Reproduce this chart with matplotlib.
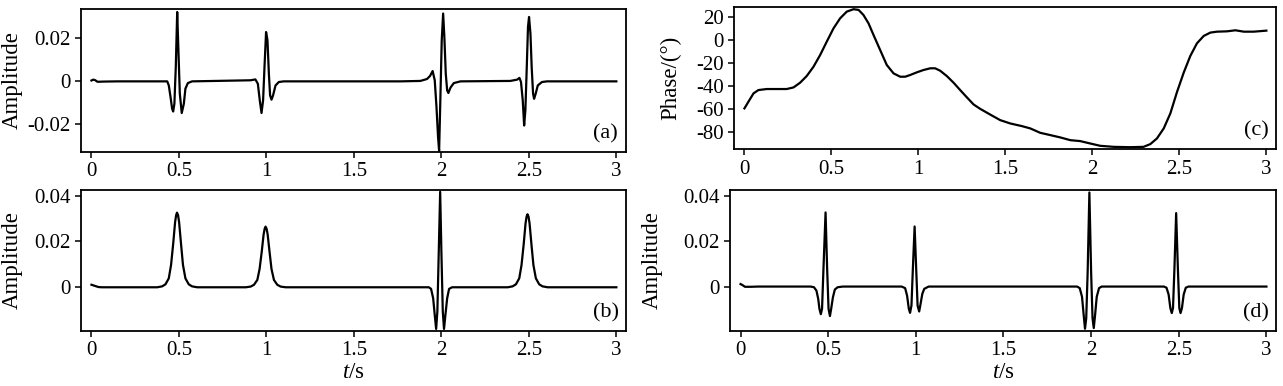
import matplotlib
matplotlib.use('Agg')
import matplotlib.pyplot as plt

plt.rcParams['font.family'] = ['Liberation Serif', 'DejaVu Serif']
plt.rcParams['axes.unicode_minus'] = False
plt.rcParams['mathtext.fontset'] = 'custom'
plt.rcParams['mathtext.rm'] = 'Liberation Serif'
plt.rcParams['mathtext.it'] = 'Liberation Serif:italic'

# (a) phase-rotated wavelets
t_a = [0, 0.01, 0.02, 0.035, 0.07, 0.15,
       0.433, 0.442, 0.452, 0.461, 0.467, 0.474, 0.482, 0.490, 0.497, 0.505, 0.516, 0.528, 0.537, 0.551, 0.575,
       0.909, 0.937, 0.951, 0.962, 0.972, 0.981, 0.989, 0.998, 1.006, 1.014, 1.021, 1.029, 1.038, 1.052, 1.071, 1.099,
       1.766, 1.880, 1.918, 1.935, 1.950, 1.962, 1.972, 1.981, 1.987, 1.994, 2.002, 2.010, 2.017, 2.025, 2.033, 2.040,
       2.052, 2.071, 2.109,
       2.394, 2.433, 2.446, 2.455, 2.465, 2.473, 2.480, 2.488, 2.495, 2.501, 2.509, 2.516, 2.524, 2.530, 2.539, 2.551,
       2.575, 2.604, 3.0]
amp_a = [0.0004, 0.0008, 0.0006, -0.0002, -0.0001, 0,
         0, -0.0019, -0.0073, -0.0127, -0.0140, -0.0104, 0.0067, 0.0322, 0.0144, -0.0057, -0.0147, -0.0104, -0.0034, -0.0008, 0,
         0.0005, 0.0009, -0.0011, -0.0088, -0.0147, -0.0088, 0.0067, 0.0229, 0.0191, 0.0036, -0.0065, -0.0085, -0.0065, -0.0019, -0.0003, 0,
         0, 0.0002, 0.0011, 0.0025, 0.0048, 0.0005, -0.0119, -0.0259, -0.0323, -0.0088, 0.0191, 0.0315, 0.0206, 0.0036, -0.0042, -0.0054,
         -0.0029, -0.0008, 0,
         0.0002, 0.0008, 0.0016, -0.0003, -0.0088, -0.0205, -0.0135, 0.0067, 0.0253, 0.0299, 0.0222, 0.0067, -0.0057, -0.0081, -0.0057, -0.0019,
         -0.0003, 0, 0]

# (b) envelope-like signal
t_b = [0, 0.02, 0.04, 0.06,
       0.376, 0.404, 0.423, 0.442, 0.455, 0.467, 0.478, 0.484, 0.489, 0.495, 0.501, 0.512, 0.523, 0.537, 0.556, 0.575, 0.604,
       0.882, 0.910, 0.929, 0.948, 0.961, 0.973, 0.984, 0.990, 0.995, 1.001, 1.007, 1.018, 1.029, 1.043, 1.062, 1.081, 1.110,
       1.928, 1.941, 1.953, 1.962, 1.970, 1.977, 1.985, 1.993, 2.000, 2.008, 2.015, 2.023, 2.033, 2.044, 2.061,
       2.379, 2.407, 2.426, 2.445, 2.458, 2.470, 2.481, 2.487, 2.492, 2.498, 2.504, 2.515, 2.526, 2.540, 2.559, 2.578, 2.607,
       3.0]
amp_b = [0.0011, 0.0006, 0.0001, 0,
         0, 0.0004, 0.0013, 0.0039, 0.0098, 0.0189, 0.0284, 0.0315, 0.0326, 0.0315, 0.0284, 0.0189, 0.0098, 0.0039, 0.0013, 0.0004, 0,
         0, 0.0003, 0.0011, 0.0032, 0.0080, 0.0154, 0.0231, 0.0256, 0.0265, 0.0256, 0.0231, 0.0154, 0.0080, 0.0032, 0.0011, 0.0003, 0,
         0, -0.0007, -0.0048, -0.0121, -0.0182, -0.0106, 0.0156, 0.0417, 0.0156, -0.0106, -0.0182, -0.0121, -0.0048, -0.0007, 0,
         0, 0.0004, 0.0013, 0.0039, 0.0097, 0.0185, 0.0279, 0.0309, 0.0319, 0.0309, 0.0279, 0.0185, 0.0097, 0.0039, 0.0013, 0.0004, 0,
         0]

# (c) phase curve
t_c = [0, 0.023, 0.052, 0.080, 0.128, 0.186, 0.243, 0.282, 0.320, 0.358, 0.397, 0.435, 0.473, 0.512, 0.550,
       0.588, 0.627, 0.656, 0.684, 0.713, 0.742, 0.780, 0.818, 0.857, 0.895, 0.924, 0.953, 0.991, 1.029, 1.068,
       1.096, 1.125, 1.163, 1.202, 1.240, 1.279, 1.317, 1.355, 1.413, 1.470, 1.528, 1.595, 1.643, 1.700, 1.758,
       1.815, 1.873, 1.930, 1.988, 2.045, 2.122, 2.218, 2.294, 2.333, 2.371, 2.410, 2.448, 2.486, 2.525, 2.563,
       2.601, 2.640, 2.678, 2.716, 2.774, 2.822, 2.870, 2.927, 3.0]
phase_c = [-59.1, -53.3, -46.1, -43.2, -42.3, -42.3, -42.3, -40.9, -36.8, -31.0, -22.9, -12.8, -1.2, 10.4, 19.1,
           24.9, 27.0, 26.4, 22.0, 14.8, 4.6, -8.4, -21.4, -28.7, -31.6, -31.6, -30.1, -27.8, -25.8, -24.3,
           -24.3, -26.4, -31.0, -36.8, -43.2, -49.6, -55.7, -59.5, -64.5, -69.3, -72.2, -74.5, -76.5, -80.3, -82.3,
           -84.3, -86.7, -87.5, -89.6, -91.6, -92.5, -92.8, -92.5, -90.1, -85.2, -76.5, -63.5, -45.0, -28.0, -13.5,
           -2.6, 3.8, 6.7, 7.5, 7.8, 8.7, 7.5, 7.5, 8.4]

# (d) zero-phase wavelets
t_d = [0, 0.01, 0.025, 0.06, 0.10,
       0.400, 0.419, 0.433, 0.443, 0.450, 0.458, 0.465, 0.473, 0.485, 0.494, 0.502, 0.510, 0.517, 0.527, 0.538, 0.554, 0.583,
       0.919, 0.939, 0.950, 0.960, 0.967, 0.975, 0.983, 0.993, 1.002, 1.010, 1.019, 1.027, 1.037, 1.048, 1.073,
       1.920, 1.935, 1.948, 1.958, 1.965, 1.972, 1.980, 1.990, 2.000, 2.008, 2.015, 2.022, 2.032, 2.045, 2.060,
       2.415, 2.430, 2.442, 2.452, 2.460, 2.467, 2.475, 2.485, 2.495, 2.503, 2.510, 2.518, 2.528, 2.540, 2.555,
       3.0]
amp_d = [0.0011, 0.0007, -0.0001, -0.0001, 0,
         0, -0.0003, -0.0018, -0.0054, -0.0098, -0.0122, -0.0098, 0.0078, 0.0327, 0.0078, -0.0098, -0.0130, -0.0098, -0.0047, -0.0013, -0.0003, 0,
         0, -0.0007, -0.0040, -0.0098, -0.0116, -0.0084, 0.0078, 0.0265, 0.0078, -0.0084, -0.0110, -0.0076, -0.0032, -0.0010, 0,
         0, -0.0007, -0.0045, -0.0130, -0.0186, -0.0140, 0.0060, 0.0415, 0.0060, -0.0140, -0.0183, -0.0130, -0.0045, -0.0007, 0,
         0, -0.0005, -0.0035, -0.0095, -0.0117, -0.0095, 0.0075, 0.0324, 0.0075, -0.0095, -0.0117, -0.0095, -0.0035, -0.0005, 0,
         0]

x_ticks = [0, 0.5, 1, 1.5, 2, 2.5, 3]
x_labels = ['0', '0.5', '1', '1.5', '2', '2.5', '3']

fig = plt.figure(figsize=(12.83, 3.86), dpi=100)
ax_a = fig.add_axes([0.0631, 0.6062, 0.4248, 0.3705])
ax_b = fig.add_axes([0.0631, 0.1425, 0.4248, 0.3653])
ax_c = fig.add_axes([0.5721, 0.6127, 0.4224, 0.3700])
ax_d = fig.add_axes([0.5690, 0.1425, 0.4256, 0.3653])


def style(ax, tag, lx):
    ax.set_xlim(-0.06, 3.055)
    ax.set_xticks(x_ticks)
    ax.set_xticklabels(x_labels)
    ax.tick_params(direction='out', length=4.3, width=1.1, labelsize=15, pad=3,
                   top=False, right=False)
    for s in ax.spines.values():
        s.set_linewidth(1.3)
    ax.text(0.963, 0.13, tag, transform=ax.transAxes, fontsize=16,
            ha='center', va='center')
    ax.yaxis.set_label_coords(lx, 0.5)


ax_a.plot(t_a, amp_a, color='black', lw=1.6)
ax_a.set_ylim(-0.0328, 0.0336)
ax_a.set_yticks([-0.02, 0, 0.02])
ax_a.set_yticklabels(['-0.02', '0', '0.02'])
ax_a.set_ylabel('Amplitude', fontsize=16.5)
style(ax_a, '(a)', -0.1075)

ax_b.plot(t_b, amp_b, color='black', lw=1.6)
ax_b.set_ylim(-0.0191, 0.0425)
ax_b.set_yticks([0, 0.02, 0.04])
ax_b.set_yticklabels(['0', '0.02', '0.04'])
ax_b.set_ylabel('Amplitude', fontsize=16.5)
ax_b.set_xlabel('$\\it{t}$/s', fontsize=16.5, labelpad=1)
style(ax_b, '(b)', -0.1075)

ax_c.plot(t_c, phase_c, color='black', lw=1.6)
ax_c.set_ylim(-94.8, 29.2)
ax_c.set_yticks([-80, -60, -40, -20, 0, 20])
ax_c.set_yticklabels(['-80', '-60', '-40', '-20', '0', '20'])
ax_c.set_ylabel('Phase/(°)', fontsize=16.5)
style(ax_c, '(c)', -0.098)

ax_d.plot(t_d, amp_d, color='black', lw=1.6)
ax_d.set_ylim(-0.0196, 0.0426)
ax_d.set_yticks([0, 0.02, 0.04])
ax_d.set_yticklabels(['0', '0.02', '0.04'])
ax_d.set_ylabel('Amplitude', fontsize=16.5)
ax_d.set_xlabel('$\\it{t}$/s', fontsize=16.5, labelpad=1)
style(ax_d, '(d)', -0.124)

fig.savefig('out.png', dpi=100)
